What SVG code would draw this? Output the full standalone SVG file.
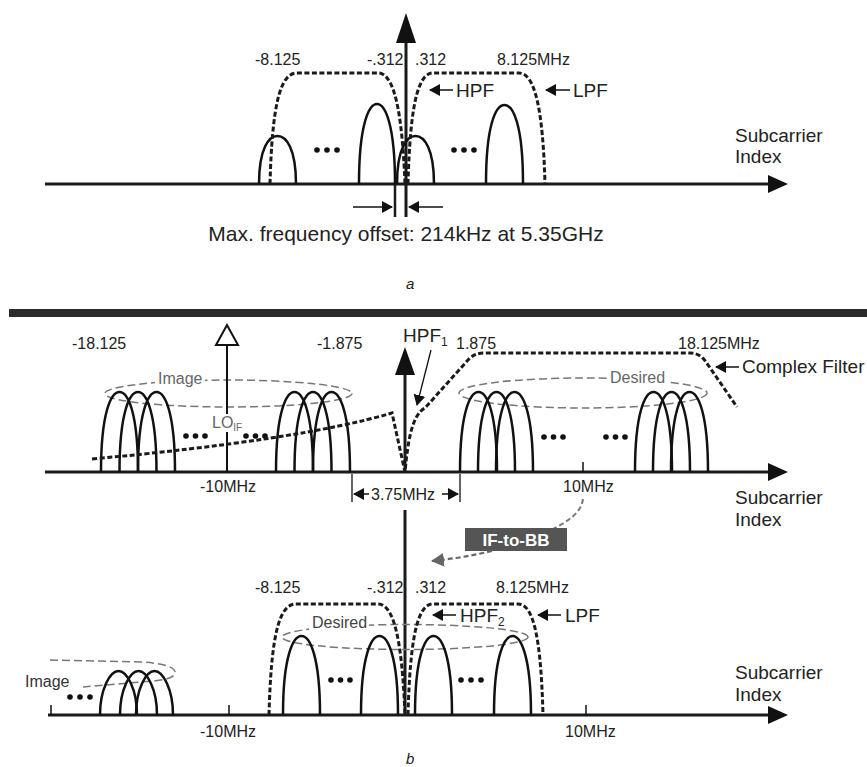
<svg xmlns="http://www.w3.org/2000/svg" width="867" height="767" viewBox="0 0 867 767">
<style>
text{font-family:"Liberation Sans",Arial,sans-serif;fill:#222}
.n16{font-size:16px}
.n19{font-size:19px}
.g{fill:#666}
.ax{stroke:#1a1a1a;stroke-width:3;fill:none}
.arch{stroke:#111;stroke-width:2.5;fill:none}
.flt{stroke:#1a1a1a;stroke-width:3;fill:none;stroke-dasharray:5 2.5}
.ell{stroke:#777;stroke-width:1.5;fill:none;stroke-dasharray:8 4}
.thin{stroke:#111;stroke-width:1.5;fill:none}
.dot{fill:#111}
.it{font-style:italic;font-size:15px}
</style>
<defs>
<marker id="arr" markerUnits="userSpaceOnUse" markerWidth="11" markerHeight="12" refX="10" refY="6" orient="auto"><path d="M0,0 L11,6 L0,12 z" fill="#111"/></marker>
<marker id="arrg" markerUnits="userSpaceOnUse" markerWidth="13" markerHeight="14" refX="12" refY="7" orient="auto"><path d="M0,0 L13,7 L0,14 z" fill="#666"/></marker>
</defs>

<!-- ================= PART A ================= -->
<g id="a-axes">
<line class="ax" x1="45" y1="184" x2="772" y2="184"/>
<polygon points="768,175 788,184 768,193" fill="#111"/>
<line class="ax" x1="406" y1="40" x2="406" y2="217"/>
<polygon points="406,13 396,43 416,43" fill="#111"/>
<line class="ax" x1="395" y1="184" x2="395" y2="217" style="stroke-width:2.5"/>
</g>
<g id="a-subcarriers">
<path class="arch" d="M259,184 C259,148 269,136 277.5,136 C286,136 296,148 296,184"/>
<path class="arch" d="M359,184 C359,124 369,104 377,104 C385,104 395,124 395,184"/>
<path class="arch" d="M397,184 C397,148 407,136 415.5,136 C424,136 434,148 434,184"/>
<path class="arch" d="M486,184 C486,124 496,105 504.5,105 C513,105 523,124 523,184"/>
<circle class="dot" cx="317" cy="150" r="2.8"/><circle class="dot" cx="327" cy="150" r="2.8"/><circle class="dot" cx="337" cy="150" r="2.8"/>
<circle class="dot" cx="454" cy="150" r="2.8"/><circle class="dot" cx="464" cy="150" r="2.8"/><circle class="dot" cx="474" cy="150" r="2.8"/>
</g>
<g id="a-filters">
<path class="flt" d="M270,184 C272,110 279,73 297,73 L378,73 C394,73 402,110 405,184"/>
<path class="flt" d="M408,184 C410,110 417,73 433,73 L519,73 C535,73 543,110 545,184"/>
</g>
<g id="a-labels">
<text class="n16" x="255" y="65">-8.125</text>
<text class="n16" x="367" y="65">-.312</text>
<text class="n16" x="415" y="65">.312</text>
<text class="n16" x="497" y="65">8.125MHz</text>
<line class="thin" x1="453" y1="90" x2="430" y2="90" marker-end="url(#arr)"/>
<text class="n19" x="456" y="97">HPF</text>
<line class="thin" x1="570" y1="90" x2="546" y2="90" marker-end="url(#arr)"/>
<text class="n19" x="573" y="97">LPF</text>
<text class="n19" x="735" y="142">Subcarrier</text>
<text class="n19" x="735" y="163">Index</text>
</g>
<g id="a-offset">
<line class="thin" x1="353" y1="207" x2="392" y2="207" marker-end="url(#arr)"/>
<line class="thin" x1="443" y1="207" x2="409" y2="207" marker-end="url(#arr)"/>
<text style="font-size:21px" x="406" y="241" text-anchor="middle">Max. frequency offset: 214kHz at 5.35GHz</text>
</g>
<text class="it" x="406" y="289">a</text>

<!-- separator -->
<rect x="9" y="309" width="858" height="8" fill="#2b2b2b"/>

<!-- ================= PART B (upper) ================= -->
<g id="b1-axes">
<line class="ax" x1="45" y1="472" x2="772" y2="472"/>
<polygon points="768,463 788,472 768,481" fill="#111"/>
<line class="ax" x1="405" y1="372" x2="405" y2="472"/>
<polygon points="405,347 395,375 415,375" fill="#111"/>
<line x1="583" y1="462" x2="583" y2="472" stroke="#111" stroke-width="1.5"/>
</g>
<g id="b1-ellipses">
<ellipse class="ell" cx="228.5" cy="393.5" rx="123.5" ry="13.5"/>
<ellipse class="ell" cx="583" cy="393" rx="124" ry="15"/>
<rect x="155" y="370" width="50" height="18" fill="#fff"/>
<text class="n16 g" x="158" y="384">Image</text>
<rect x="607" y="369" width="61" height="18" fill="#fff"/>
<text class="n16 g" x="610" y="383">Desired</text>
</g>
<g id="b1-lo">
<line x1="227" y1="344" x2="227" y2="472" stroke="#111" stroke-width="2"/>
<polygon points="227,325 216,345 238,345" fill="#fff" stroke="#111" stroke-width="2"/>
<rect x="211" y="414" width="32" height="18" fill="#fff"/>
<text class="g" style="font-size:16px" x="212" y="428">LO<tspan style="font-size:10px" dy="3">IF</tspan></text>
</g>
<g id="b1-subcarriers">
<path class="arch" d="M101,472 C101,412 111.2,392 119.5,392 C127.8,392 138,412 138,472"/>
<path class="arch" d="M119.5,472 C119.5,412 129.7,392 138,392 C146.3,392 156.5,412 156.5,472"/>
<path class="arch" d="M138,472 C138,412 148.2,392 156.5,392 C164.8,392 175,412 175,472"/>
<path class="arch" d="M276,472 C276,412 286.2,392 294.5,392 C302.8,392 313,412 313,472"/>
<path class="arch" d="M294.5,472 C294.5,412 304.7,392 313,392 C321.3,392 331.5,412 331.5,472"/>
<path class="arch" d="M313,472 C313,412 323.2,392 331.5,392 C339.8,392 350,412 350,472"/>
<path class="arch" d="M460,472 C460,412 470.2,392 478.5,392 C486.8,392 497,412 497,472"/>
<path class="arch" d="M478,472 C478,412 488.2,392 496.5,392 C504.8,392 515,412 515,472"/>
<path class="arch" d="M496,472 C496,412 506.2,392 514.5,392 C522.8,392 533,412 533,472"/>
<path class="arch" d="M635,472 C635,412 645.2,392 653.5,392 C661.8,392 672,412 672,472"/>
<path class="arch" d="M653,472 C653,412 663.2,392 671.5,392 C679.8,392 690,412 690,472"/>
<path class="arch" d="M671,472 C671,412 681.2,392 689.5,392 C697.8,392 708,412 708,472"/>
<circle class="dot" cx="186" cy="436" r="2.8"/><circle class="dot" cx="195.5" cy="436" r="2.8"/><circle class="dot" cx="205" cy="436" r="2.8"/>
<circle class="dot" cx="246" cy="436" r="2.8"/><circle class="dot" cx="255.5" cy="436" r="2.8"/><circle class="dot" cx="265" cy="436" r="2.8"/>
<circle class="dot" cx="544" cy="437" r="2.8"/><circle class="dot" cx="553.5" cy="437" r="2.8"/><circle class="dot" cx="563" cy="437" r="2.8"/>
<circle class="dot" cx="606" cy="437" r="2.8"/><circle class="dot" cx="615.5" cy="437" r="2.8"/><circle class="dot" cx="625" cy="437" r="2.8"/>
</g>
<g id="b1-filter">
<path class="flt" d="M92,459 Q300,440 392,413 L405,472 C408,440 412,415 425,408 L468,360 Q474,353 484,353 L690,353 Q700,353 706,362 L737,407"/>
</g>
<g id="b1-labels">
<text class="n16" x="72" y="349">-18.125</text>
<text class="n16" x="317" y="349">-1.875</text>
<text class="n19" x="403" y="342">HPF<tspan style="font-size:12px" dy="4">1</tspan></text>
<line x1="431" y1="350" x2="417" y2="405" stroke="#111" stroke-width="1.3" marker-end="url(#arr)"/>
<text class="n16" x="456" y="349">1.875</text>
<text class="n16" x="678" y="349">18.125MHz</text>
<line class="thin" x1="739" y1="367" x2="716" y2="367" marker-end="url(#arr)"/>
<text class="n19" x="742" y="373">Complex Filter</text>
<text class="n16" x="200" y="492">-10MHz</text>
<text class="n16" x="563" y="492">10MHz</text>
<text class="n19" x="735" y="504">Subcarrier</text>
<text class="n19" x="735" y="526">Index</text>
</g>
<g id="b1-bw">
<line x1="352" y1="474" x2="352" y2="502" stroke="#111" stroke-width="1.3"/>
<line x1="460" y1="474" x2="460" y2="502" stroke="#111" stroke-width="1.3"/>
<line class="thin" x1="369" y1="494" x2="354" y2="494" marker-end="url(#arr)"/>
<line class="thin" x1="442" y1="494" x2="458" y2="494" marker-end="url(#arr)"/>
<text class="n16" x="371" y="500">3.75MHz</text>
</g>

<!-- IF-to-BB conversion -->
<g id="if-to-bb">
<path d="M583,499 C581,514 566,522 553,529" stroke="#777" stroke-width="2" fill="none" stroke-dasharray="5 3"/>
<rect x="465" y="528" width="102" height="23" fill="#555"/>
<text x="516" y="546" text-anchor="middle" style="font-size:17px;font-weight:bold;fill:#fff">IF-to-BB</text>
<path d="M492,551 Q462,558 432,561" stroke="#666" stroke-width="2.2" fill="none" stroke-dasharray="5 3" marker-end="url(#arrg)"/>
</g>

<!-- ================= PART B (lower) ================= -->
<g id="b2-axes">
<line class="ax" x1="405" y1="510" x2="405" y2="715"/>
<line class="ax" x1="48" y1="715" x2="772" y2="715"/>
<polygon points="768,706 788,715 768,724" fill="#111"/>
<line x1="51" y1="705" x2="51" y2="715" stroke="#111" stroke-width="1.5"/>
<line x1="229" y1="705" x2="229" y2="715" stroke="#111" stroke-width="1.5"/>
<line x1="586" y1="705" x2="586" y2="715" stroke="#111" stroke-width="1.5"/>
</g>
<g id="b2-ellipses">
<ellipse class="ell" cx="405" cy="637" rx="123" ry="12.5"/>
<rect x="309" y="614" width="60" height="17" fill="#fff"/>
<text class="n16" style="fill:#444" x="312" y="628">Desired</text>
<path class="ell" d="M50,660 L140,662 C165,663 176,668 175,673 C174,679 160,681 140,682 L83,687"/>
<text class="n16" style="fill:#333" x="25" y="687">Image</text>
</g>
<g id="b2-subcarriers">
<path class="arch" d="M100,715 C100,689 110.2,671 118.5,671 C126.8,671 137,689 137,715"/>
<path class="arch" d="M120,715 C120,689 130.2,671 138.5,671 C146.8,671 157,689 157,715"/>
<path class="arch" d="M136,715 C136,689 146.2,671 154.5,671 C162.8,671 173,689 173,715"/>
<path class="arch" d="M283,715 C283,656 293.2,636 301.5,636 C309.8,636 320,656 320,715"/>
<path class="arch" d="M361,715 C361,656 371.2,636 379.5,636 C387.8,636 398,656 398,715"/>
<path class="arch" d="M415,715 C415,656 425.2,636 433.5,636 C441.8,636 452,656 452,715"/>
<path class="arch" d="M494,715 C494,656 504.2,636 512.5,636 C520.8,636 531,656 531,715"/>
<circle class="dot" cx="70" cy="697" r="2.8"/><circle class="dot" cx="80" cy="697" r="2.8"/><circle class="dot" cx="90" cy="697" r="2.8"/>
<circle class="dot" cx="331" cy="680" r="2.8"/><circle class="dot" cx="340.5" cy="680" r="2.8"/><circle class="dot" cx="350" cy="680" r="2.8"/>
<circle class="dot" cx="461" cy="680" r="2.8"/><circle class="dot" cx="471" cy="680" r="2.8"/><circle class="dot" cx="481" cy="680" r="2.8"/>
</g>
<g id="b2-filters">
<path class="flt" d="M269,715 C271,640 278,604 296,604 L378,604 C394,604 402,640 405,715"/>
<path class="flt" d="M408,715 C410,640 417,604 433,604 L518,604 C534,604 541,640 543,715"/>
</g>
<g id="b2-labels">
<text class="n16" x="255" y="593">-8.125</text>
<text class="n16" x="367" y="593">-.312</text>
<text class="n16" x="415" y="593">.312</text>
<text class="n16" x="496" y="593">8.125MHz</text>
<line class="thin" x1="456" y1="615" x2="433" y2="615" marker-end="url(#arr)"/>
<text class="n19" x="460" y="622">HPF<tspan style="font-size:12px" dy="4">2</tspan></text>
<line class="thin" x1="561" y1="615" x2="538" y2="615" marker-end="url(#arr)"/>
<text class="n19" x="565" y="622">LPF</text>
<text class="n16" x="200" y="737">-10MHz</text>
<text class="n16" x="565" y="737">10MHz</text>
<text class="n19" x="735" y="679">Subcarrier</text>
<text class="n19" x="735" y="701">Index</text>
</g>
<text class="it" x="406" y="764">b</text>
</svg>
